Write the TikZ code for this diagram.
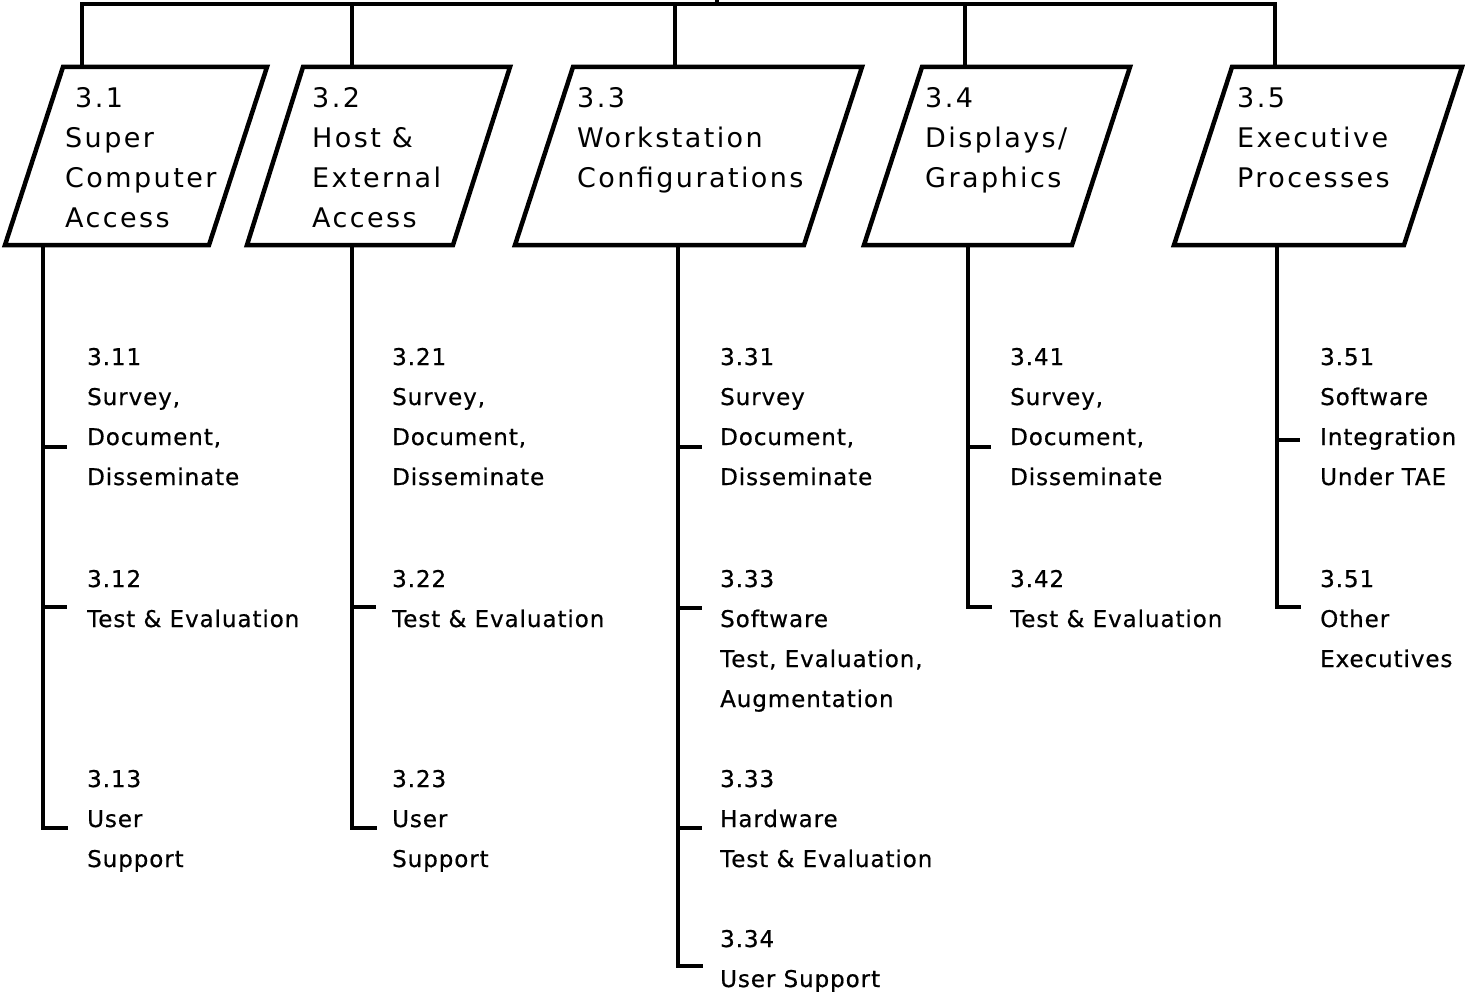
\documentclass[tikz,border=0pt]{standalone}
\usepackage{fontspec}
\newfontfamily\headfont[LetterSpace=9]{DejaVu Sans}
\newfontfamily\itemfont[LetterSpace=4,FakeBold=0.6]{DejaVu Sans}
\newcommand{\tline}[1]{\hbox{#1}}
\begin{document}
\begin{tikzpicture}[x=1pt,y=-1pt,
  wbox/.style={line width=4.5pt,line join=miter},
  wire/.style={line width=4pt},
  bus/.style={line width=3.5pt},
  headtxt/.style={anchor=base west,inner sep=0pt,font=\headfont\fontsize{27}{40}\selectfont},
  itemtxt/.style={anchor=base west,inner sep=0pt,font=\itemfont\fontsize{23}{40}\selectfont}]
\useasboundingbox (0,0) rectangle (1465,998);

% ---- work packages (parallelograms) ----
\draw[wbox] (63,67) -- (267,67) -- (209,245) -- (5,245) -- cycle;
\draw[wbox] (303,67) -- (510,67) -- (453,245) -- (247,245) -- cycle;
\draw[wbox] (573,67) -- (862,67) -- (804,245) -- (515,245) -- cycle;
\draw[wbox] (922,67) -- (1130,67) -- (1072,245) -- (864,245) -- cycle;
\draw[wbox] (1232,67) -- (1462,67) -- (1404,245) -- (1174,245) -- cycle;

\node[headtxt] (h31) at (65,107) {\vtop{\tline{\hskip10pt 3.1}\tline{Super}\tline{Computer}\tline{Access}}};
\node[headtxt] (h32) at (312,107) {\vtop{\tline{3.2}\tline{Host \&}\tline{External}\tline{Access}}};
\node[headtxt] (h33) at (577,107) {\vtop{\tline{3.3}\tline{Workstation}\tline{Configurations}}};
\node[headtxt] (h34) at (925,107) {\vtop{\tline{3.4}\tline{Displays/}\tline{Graphics}}};
\node[headtxt] (h35) at (1237,107) {\vtop{\tline{3.5}\tline{Executive}\tline{Processes}}};

% attachment points on the boxes
\coordinate (top31) at (82,67);   \coordinate (bot31) at (43,245);
\coordinate (top32) at (352,67);  \coordinate (bot32) at (352,245);
\coordinate (top33) at (675,67);  \coordinate (bot33) at (678,245);
\coordinate (top34) at (965,67);  \coordinate (bot34) at (968,245);
\coordinate (top35) at (1275,67); \coordinate (bot35) at (1277,245);

% ---- bus from the parent ----
\coordinate (busmid) at (717,4);
\coordinate (parent) at (717,0);
\draw[bus] (top31) |- (busmid) -| (top35);
\draw[bus] (parent) -- (busmid);
\draw[wire] (top32) -- (top32 |- busmid);
\draw[wire] (top33) -- (top33 |- busmid);
\draw[wire] (top34) -- (top34 |- busmid);

% ---- tasks ----
\node[itemtxt] (s311) at (87,365) {\vtop{\tline{3.11}\tline{Survey,}\tline{Document,}\tline{Disseminate}}};
\node[itemtxt] (s312) at (87,587) {\vtop{\tline{3.12}\tline{Test \& Evaluation}}};
\node[itemtxt] (s313) at (87,787) {\vtop{\tline{3.13}\tline{User}\tline{Support}}};

\node[itemtxt] (s321) at (392,365) {\vtop{\tline{3.21}\tline{Survey,}\tline{Document,}\tline{Disseminate}}};
\node[itemtxt] (s322) at (392,587) {\vtop{\tline{3.22}\tline{Test \& Evaluation}}};
\node[itemtxt] (s323) at (392,787) {\vtop{\tline{3.23}\tline{User}\tline{Support}}};

\node[itemtxt] (s331) at (720,365) {\vtop{\tline{3.31}\tline{Survey}\tline{Document,}\tline{Disseminate}}};
\node[itemtxt] (s332) at (720,587) {\vtop{\tline{3.33}\tline{Software}\tline{Test, Evaluation,}\tline{Augmentation}}};
\node[itemtxt] (s333) at (720,787) {\vtop{\tline{3.33}\tline{Hardware}\tline{Test \& Evaluation}}};
\node[itemtxt] (s334) at (720,947) {\vtop{\tline{3.34}\tline{User Support}}};

\node[itemtxt] (s341) at (1010,365) {\vtop{\tline{3.41}\tline{Survey,}\tline{Document,}\tline{Disseminate}}};
\node[itemtxt] (s342) at (1010,587) {\vtop{\tline{3.42}\tline{Test \& Evaluation}}};

\node[itemtxt] (s351) at (1320,365) {\vtop{\tline{3.51}\tline{Software}\tline{Integration}\tline{Under TAE}}};
\node[itemtxt] (s352) at (1320,587) {\vtop{\tline{3.51}\tline{Other}\tline{Executives}}};

% tick ends
\coordinate (k311) at (67,447);   \coordinate (k312) at (67,607);   \coordinate (k313) at (68,828);
\coordinate (k322) at (376,607);  \coordinate (k323) at (377,828);
\coordinate (k331) at (702,447);  \coordinate (k332) at (702,608);  \coordinate (k333) at (702,828);
\coordinate (k334) at (703,966);
\coordinate (k341) at (991,447);  \coordinate (k342) at (992,607);
\coordinate (k351) at (1300,440); \coordinate (k352) at (1301,607);

% ---- column stems and ticks ----
\draw[wire] (bot31) |- (k313);
\draw[wire] (k311 -| bot31) -- (k311);
\draw[wire] (k312 -| bot31) -- (k312);

\draw[wire] (bot32) |- (k323);
\draw[wire] (k322 -| bot32) -- (k322);

\draw[wire] (bot33) |- (k334);
\draw[wire] (k331 -| bot33) -- (k331);
\draw[wire] (k332 -| bot33) -- (k332);
\draw[wire] (k333 -| bot33) -- (k333);

\draw[wire] (bot34) |- (k342);
\draw[wire] (k341 -| bot34) -- (k341);

\draw[wire] (bot35) |- (k352);
\draw[wire] (k351 -| bot35) -- (k351);
\end{tikzpicture}
\end{document}
